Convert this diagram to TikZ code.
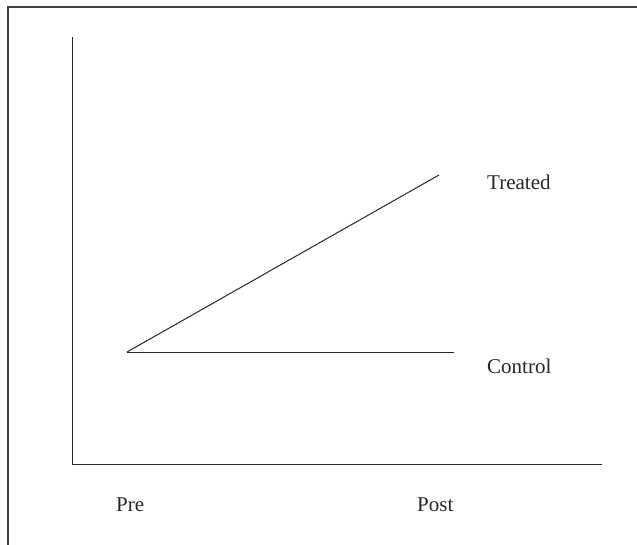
\documentclass[tikz,border=0pt]{standalone}
\usepackage{fontspec}
\setmainfont{Liberation Serif}
\begin{document}
\begin{tikzpicture}[x=1pt,y=-1pt,
  lbl/.style={anchor=base west,inner sep=0pt,font=\fontsize{21}{24}\selectfont,text=black!85},
  ln/.style={line width=1pt,draw=black!85}]
\useasboundingbox (0,0) rectangle (637,544);
% frame (only top and left edges inside the picture)
\coordinate (ftl) at (8,7);
\coordinate (ftr) at (640,7);
\coordinate (fbl) at (8,548);
\draw[line width=1.3pt,draw=black!75] (ftr) -- (ftl) -- (fbl);
% axes
\coordinate (ytop) at (72,37);
\coordinate (orig) at (72,464);
\coordinate (xend) at (602,464);
\draw[ln] (ytop) -- (orig) -- (xend);
% lines
\coordinate (start) at (127,352);
\coordinate (tend) at (439,175);
\coordinate (cend) at (454,352);
\draw[ln] (start) -- (tend);
\draw[ln] (start) -- (cend);
% labels
\node[lbl] (treated) at (487,189) {Treated};
\node[lbl] (control) at (487,373) {Control};
\node[lbl] (pre) at (116,511) {Pre};
\node[lbl] (post) at (417,511) {Post};
\end{tikzpicture}
\end{document}
